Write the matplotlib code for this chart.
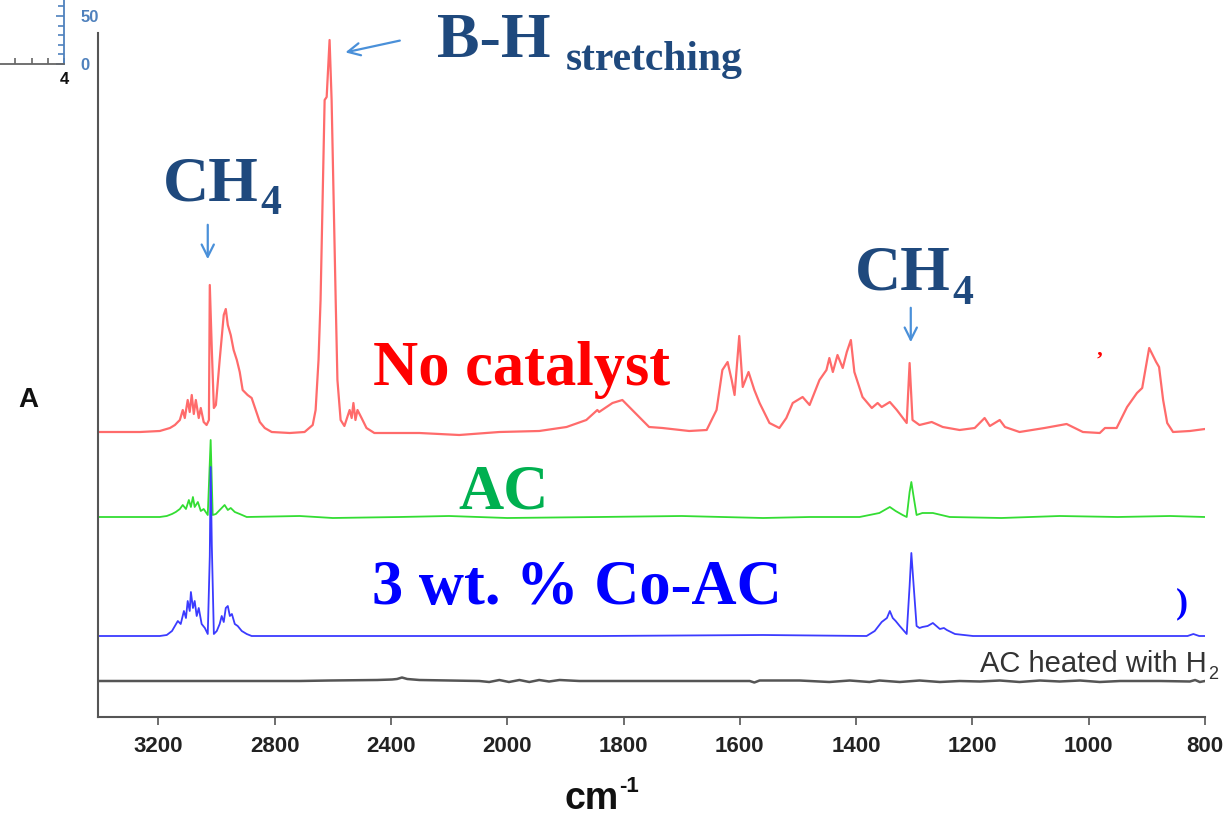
import numpy as np
import matplotlib
matplotlib.use("Agg")
import matplotlib.pyplot as plt

# ── Data (wavenumber in cm-1, absorbance above each trace's own baseline) ────
wn_red = [3407, 3263, 3195, 3160, 3143, 3126, 3116, 3109, 3099, 3092, 3085, 3078,
          3071, 3061, 3054, 3044, 3034, 3026, 3023, 3016, 3009, 3002, 2989, 2975,
          2968, 2961, 2951, 2941, 2930, 2920, 2910, 2893, 2879, 2865, 2851, 2834,
          2810, 2748, 2697, 2669, 2659, 2649, 2642, 2635, 2628, 2621, 2611, 2604,
          2597, 2590, 2584, 2573, 2560, 2542, 2535, 2529, 2522, 2515, 2501, 2484,
          2457, 2302, 2165, 2027, 1945, 1898, 1864, 1845, 1842, 1819, 1802, 1773,
          1756, 1733, 1687, 1657, 1640, 1630, 1621, 1614, 1609, 1601, 1595, 1585,
          1575, 1566, 1549, 1532, 1520, 1509, 1492, 1480, 1463, 1451, 1446, 1440,
          1432, 1423, 1416, 1409, 1403, 1389, 1373, 1363, 1356, 1342, 1330, 1313,
          1308, 1303, 1291, 1270, 1251, 1222, 1196, 1179, 1170, 1153, 1144, 1119,
          1076, 1038, 1010, 981, 972, 952, 934, 917, 908, 896, 884, 879, 872, 865,
          855, 826, 800]
a_red = [0.00, 0.00, 0.01, 0.04, 0.07, 0.12, 0.22, 0.14, 0.32, 0.20, 0.37, 0.18,
         0.32, 0.14, 0.24, 0.10, 0.07, 0.12, 1.47, 0.82, 0.24, 0.27, 0.72, 1.17,
         1.23, 1.07, 0.97, 0.82, 0.72, 0.60, 0.42, 0.37, 0.34, 0.22, 0.10, 0.04,
         0.00, -0.01, 0.00, 0.07, 0.22, 0.72, 1.32, 2.32, 3.32, 3.35, 3.92, 3.32,
         2.32, 1.32, 0.52, 0.12, 0.06, 0.22, 0.14, 0.29, 0.12, 0.22, 0.14, 0.04,
         -0.01, -0.01, -0.03, 0.00, 0.01, 0.05, 0.12, 0.22, 0.20, 0.29, 0.32, 0.15,
         0.05, 0.04, 0.01, 0.02, 0.22, 0.62, 0.70, 0.52, 0.37, 0.96, 0.45, 0.60,
         0.42, 0.29, 0.09, 0.04, 0.14, 0.29, 0.35, 0.27, 0.52, 0.62, 0.74, 0.60,
         0.77, 0.64, 0.80, 0.92, 0.60, 0.35, 0.24, 0.29, 0.25, 0.30, 0.22, 0.09,
         0.69, 0.12, 0.07, 0.10, 0.05, 0.02, 0.04, 0.14, 0.06, 0.12, 0.05, 0.00,
         0.04, 0.08, 0.00, -0.01, 0.04, 0.04, 0.25, 0.39, 0.44, 0.84, 0.70, 0.65,
         0.32, 0.09, 0.00, 0.01, 0.03]

wn_green = [3407, 3195, 3171, 3153, 3140, 3126, 3116, 3105, 3095, 3088, 3081, 3075,
            3064, 3054, 3044, 3030, 3020, 3013, 3002, 2992, 2982, 2972, 2961, 2951,
            2937, 2920, 2896, 2714, 2600, 2371, 2200, 2000, 1842, 1700, 1560, 1480,
            1394, 1360, 1342, 1332, 1320, 1313, 1308, 1305, 1301, 1296, 1286, 1268,
            1239, 1150, 1050, 950, 860, 800]
a_green = [0.00, 0.00, 0.01, 0.03, 0.05, 0.08, 0.12, 0.08, 0.17, 0.10, 0.20, 0.10,
           0.15, 0.06, 0.08, 0.02, 0.77, 0.02, 0.03, 0.06, 0.09, 0.12, 0.07, 0.09,
           0.05, 0.03, 0.00, 0.01, -0.01, 0.00, 0.01, -0.01, 0.00, 0.01, -0.01, 0.00,
           0.00, 0.04, 0.10, 0.06, 0.02, 0.00, 0.25, 0.35, 0.20, 0.02, 0.04, 0.04,
           0.00, -0.01, 0.01, 0.00, 0.01, 0.00]

wn_blue = [3407, 3195, 3171, 3153, 3143, 3133, 3123, 3112, 3105, 3099, 3092, 3088,
           3081, 3075, 3068, 3061, 3051, 3040, 3030, 3023, 3020, 3016, 3009, 2999,
           2989, 2982, 2975, 2968, 2961, 2954, 2947, 2937, 2927, 2913, 2896, 2879,
           2371, 1842, 1560, 1382, 1368, 1356, 1347, 1342, 1337, 1332, 1325, 1313,
           1308, 1305, 1301, 1296, 1291, 1286, 1277, 1268, 1262, 1256, 1249, 1244,
           1230, 1199, 830, 820, 810, 800]
a_blue = [0.00, 0.00, 0.01, 0.05, 0.10, 0.15, 0.12, 0.25, 0.18, 0.35, 0.25, 0.44,
          0.28, 0.35, 0.20, 0.28, 0.12, 0.08, 0.02, 0.80, 1.69, 0.90, 0.02, 0.05,
          0.12, 0.20, 0.14, 0.28, 0.30, 0.20, 0.22, 0.12, 0.10, 0.05, 0.02, 0.00,
          0.00, 0.00, 0.01, 0.00, 0.05, 0.14, 0.18, 0.25, 0.18, 0.15, 0.10, 0.02,
          0.50, 0.83, 0.50, 0.10, 0.08, 0.09, 0.10, 0.13, 0.10, 0.07, 0.08, 0.06,
          0.02, 0.00, 0.00, 0.02, 0.00, 0.00]

wn_gray = [3407, 2714, 2611, 2447, 2396, 2379, 2362, 2344, 2302, 2096, 2062, 2027,
           1997, 1979, 1962, 1945, 1928, 1910, 1876, 1669, 1583, 1575, 1566, 1497,
           1446, 1411, 1377, 1360, 1325, 1291, 1256, 1222, 1187, 1153, 1119, 1084,
           1050, 1015, 981, 946, 877, 826, 817, 809, 800]
a_gray = [0.00, 0.00, 0.005, 0.01, 0.015, 0.02, 0.035, 0.02, 0.01, 0.00, -0.01, 0.01,
          -0.01, 0.01, -0.01, 0.01, -0.005, 0.01, 0.00, 0.00, 0.00, -0.015, 0.005, 0.005,
          -0.01, 0.005, -0.01, 0.005, -0.01, 0.005, -0.01, 0.00, -0.005, 0.005, -0.01, 0.005,
          -0.005, 0.005, -0.01, 0.00, 0.00, -0.005, 0.01, -0.01, 0.00]

# stacking offsets of the traces
OFF_RED, OFF_GREEN, OFF_BLUE, OFF_GRAY = 2.85, 2.00, 0.81, 0.36

XTICKS = [3200, 2800, 2400, 2000, 1800, 1600, 1400, 1200, 1000, 800]

W, H = 1225, 821
SERIF = "Liberation Serif"
SANS = "Liberation Sans"
NAVY = "#1F497D"
ARROW = "#4A90D9"


def fx(x):
    return x / W


def fy(y):
    return 1 - y / H


# split x scale: above 2000 cm-1 compressed by a factor of 2
def fwd(w):
    w = np.asarray(w, dtype=float)
    return np.where(w > 2000, 2000 + (w - 2000) / 2, w)


def inv(u):
    u = np.asarray(u, dtype=float)
    return np.where(u > 2000, 2000 + (u - 2000) * 2, u)


fig = plt.figure(figsize=(W / 100, H / 100), dpi=100)
ax = fig.add_axes([fx(98), fy(717), fx(1205) - fx(98), fy(33) - fy(717)])

ax.plot(wn_red, np.array(a_red) + OFF_RED, color="#FF6B6B", lw=1.6)
ax.plot(wn_green, np.array(a_green) + OFF_GREEN, color="#33DD33", lw=1.3)
ax.plot(wn_blue, np.array(a_blue) + OFF_BLUE, color="#3B3BFF", lw=1.3)
ax.plot(wn_gray, np.array(a_gray) + OFF_GRAY, color="#555555", lw=1.8)

ax.set_xscale("function", functions=(fwd, inv))
ax.set_xlim(3407.5, 800)
ax.set_ylim(0, 6.84)
ax.set_xticks(XTICKS)
ax.set_xticklabels([str(t) for t in XTICKS], fontfamily=SANS,
                   fontweight="bold", fontsize=16, color="#222222")
ax.tick_params(axis="x", direction="out", length=6, width=1.2, color="#555555", pad=8)
ax.set_yticks([])
ax.minorticks_off()
for side in ["top", "right"]:
    ax.spines[side].set_visible(False)
for side in ["left", "bottom"]:
    ax.spines[side].set_color("#555555")
    ax.spines[side].set_linewidth(1.5)

# axis labels
fig.text(fx(28), fy(400), "A", fontfamily=SANS, fontweight="bold", fontsize=20,
         ha="center", va="center", color="#111111")
fig.text(fx(565), fy(809), "cm", fontfamily=SANS, fontweight="bold", fontsize=27,
         ha="left", va="baseline", color="#111111")
fig.text(fx(619), fy(792), "-1", fontfamily=SANS, fontweight="bold", fontsize=16,
         ha="left", va="baseline", color="#111111")

# trace labels
fig.text(fx(373), fy(385), "No catalyst", fontfamily=SERIF, fontweight="bold",
         fontsize=45, color="#FF0000", va="baseline")
fig.text(fx(458), fy(508), "AC", fontfamily=SERIF, fontweight="bold",
         fontsize=45, color="#00B050", va="baseline")
fig.text(fx(372), fy(604), "3 wt. % Co-AC", fontfamily=SERIF, fontweight="bold",
         fontsize=45, color="#0000FF", va="baseline")
fig.text(fx(980), fy(672), "AC heated with H", fontfamily=SANS, fontsize=21,
         color="#333333", va="baseline")
fig.text(fx(1208), fy(679), "2", fontfamily=SANS, fontsize=13,
         color="#333333", va="baseline")
# clipped leftovers of other labels
fig.text(fx(1096), fy(366), "\u2019", fontfamily=SERIF, fontweight="bold",
         fontsize=16, color="#FF0000", va="baseline")
fig.text(fx(1176), fy(612), ")", fontfamily=SERIF, fontweight="bold",
         fontsize=26, color="#0000FF", va="baseline")

# band assignments
fig.text(fx(437), fy(57), "B-H", fontfamily=SERIF, fontweight="bold",
         fontsize=46, color=NAVY, va="baseline")
fig.text(fx(566), fy(70), "stretching", fontfamily=SERIF, fontweight="bold",
         fontsize=30, color=NAVY, va="baseline")
for x0, yb in [(163, 200), (855, 290)]:
    fig.text(fx(x0), fy(yb), "CH", fontfamily=SERIF, fontweight="bold",
             fontsize=46, color=NAVY, va="baseline")
    fig.text(fx(x0 + 97), fy(yb + 14), "4", fontfamily=SERIF, fontweight="bold",
             fontsize=30, color=NAVY, va="baseline")

arrow = dict(arrowstyle="->", color=ARROW, lw=1.6, mutation_scale=22)
ax.annotate("", xy=(2566, 6.64), xytext=(2360, 6.77), arrowprops=arrow,
            annotation_clip=False)
ax.annotate("", xy=(3030, 4.55), xytext=(3030, 4.95), arrowprops=arrow,
            annotation_clip=False)
ax.annotate("", xy=(1306, 3.72), xytext=(1306, 4.12), arrowprops=arrow,
            annotation_clip=False)

# fragment of another plot in the top-left corner
ins = fig.add_axes([0, fy(64), fx(64), fy(0) - fy(64)])
ins.set_xlim(0.06, 4.0)
ins.set_ylim(0, 66.7)
ins.patch.set_alpha(0)
for side in ["top", "left"]:
    ins.spines[side].set_visible(False)
ins.spines["right"].set_color("#4F81BD")
ins.spines["right"].set_linewidth(1.3)
ins.spines["bottom"].set_color("#666666")
ins.spines["bottom"].set_linewidth(1.3)
ins.yaxis.tick_right()
ins.set_yticks([0, 50])
ins.set_yticks([10, 20, 30, 40, 60], minor=True)
ins.set_yticklabels(["0", "50"], color="#4F81BD", fontfamily=SANS,
                    fontweight="bold", fontsize=12)
ins.tick_params(axis="y", which="both", direction="in", color="#4F81BD",
                length=6, width=1.2, pad=12)
ins.tick_params(axis="y", which="minor", length=4)
ins.set_xticks([4])
ins.set_xticks([1, 2, 3], minor=True)
ins.set_xticklabels(["4"], fontfamily=SANS, fontweight="bold", fontsize=12,
                    color="#111111")
ins.tick_params(axis="x", which="both", direction="in", color="#666666",
                length=4, width=1.2, pad=6)

fig.savefig("out.png", dpi=100)
